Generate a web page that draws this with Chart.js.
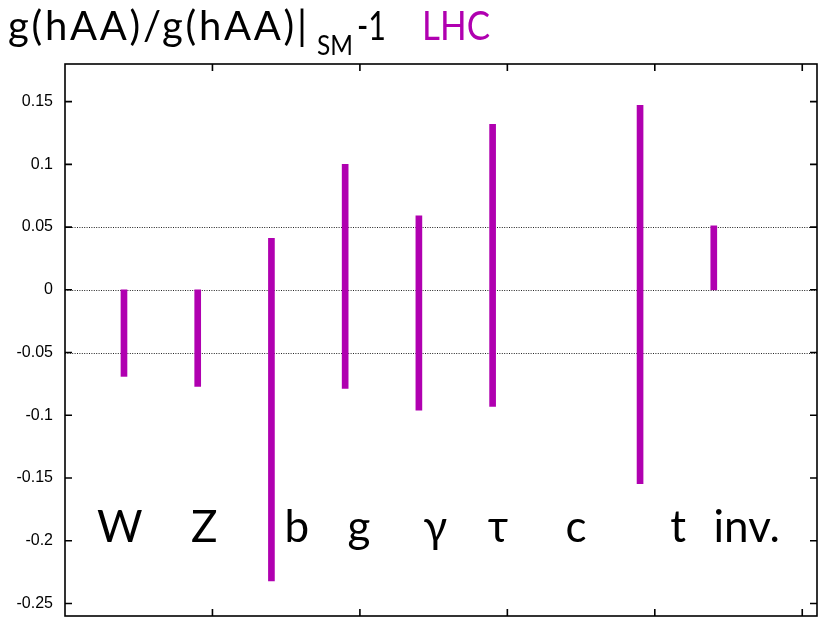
<!DOCTYPE html>
<html><head><meta charset="utf-8">
<script src="https://cdn.jsdelivr.net/npm/chart.js@4"></script>
<style>html,body{margin:0;padding:0;background:#fff;}#wrap{width:831px;height:621px;position:relative}</style>
</head><body><div id="wrap"><canvas id="c" width="831" height="621"></canvas></div>
<script>
// ---- data ----
const categories   = ['W','Z','b','g','\u03B3','\u03C4','c','t','inv.'];
const lowValues    = [-0.069,-0.077,-0.232,-0.0785,-0.096,-0.093,null,-0.1545,0];
const highValues   = [0,0,0.041,0.100,0.059,0.132,null,0.147,0.051];
const categoryLabelX = [0.371,0.945,1.572,1.993,2.510,2.936,3.466,4.159,4.623];
const categoryLabelY = -0.201;
const yTickValues  = [-0.25,-0.2,-0.15,-0.1,-0.05,0,0.05,0.1,0.15];
const xTickValues  = [1,2,3,4,5];
const gridValues   = [-0.05,0,0.05];
const titleMain = 'g(hAA)/g(hAA)|';
const titleSub  = 'SM';
const titleTail = '-1';
const titleLHC  = 'LHC';

const PURPLE = '#b000b0';

const barData = categories.map((c,i) => ({
  x: 0.4 + 0.5*i,
  y: (lowValues[i]===null) ? null : [lowValues[i], highValues[i]]
}));

function fitText(ctx, text, x0, x1, y) {
  const w = ctx.measureText(text).width;
  const n = [...text].length;
  const target = x1 - x0;
  if (w > target || !('letterSpacing' in ctx) || n < 2) {
    ctx.save(); ctx.translate(x0, y); ctx.scale(target / w, 1); ctx.fillText(text, 0, 0); ctx.restore();
  } else {
    ctx.letterSpacing = ((target - w)/(n-1)) + 'px';
    ctx.fillText(text, x0, y);
    ctx.letterSpacing = '0px';
  }
}

const framePlugin = {
  id: 'frame',
  beforeDatasetsDraw(chart) {
    const {ctx, chartArea: a, scales: {x, y}} = chart;
    ctx.save();
    ctx.strokeStyle = '#222';
    ctx.lineWidth = 1;
    ctx.setLineDash([1, 1.4]);
    gridValues.forEach(v => {
      const py = Math.round(y.getPixelForValue(v)) + 0.5;
      ctx.beginPath(); ctx.moveTo(a.left, py); ctx.lineTo(a.right, py); ctx.stroke();
    });
    ctx.restore();
  },
  afterDatasetsDraw(chart) {
    const {ctx, chartArea: a, scales: {x, y}} = chart;
    ctx.save();
    ctx.strokeStyle = '#000';
    ctx.lineWidth = 1.6;
    ctx.strokeRect(a.left, a.top, a.right - a.left, a.bottom - a.top);
    const L = 7;
    ctx.beginPath();
    yTickValues.forEach(v => {
      const py = y.getPixelForValue(v);
      ctx.moveTo(a.left, py); ctx.lineTo(a.left + L, py);
      ctx.moveTo(a.right, py); ctx.lineTo(a.right - L, py);
    });
    xTickValues.forEach(v => {
      const px = x.getPixelForValue(v);
      ctx.moveTo(px, a.top); ctx.lineTo(px, a.top + L);
      ctx.moveTo(px, a.bottom); ctx.lineTo(px, a.bottom - L);
    });
    ctx.stroke();
    // category labels
    ctx.fillStyle = '#000';
    ctx.font = '44px Lato, "DejaVu Sans", sans-serif';
    ctx.textAlign = 'center';
    ctx.textBaseline = 'alphabetic';
    categories.forEach((c, i) => {
      ctx.fillText(c, x.getPixelForValue(categoryLabelX[i]), y.getPixelForValue(categoryLabelY));
    });
    ctx.restore();
  },
  afterDraw(chart) {
    const ctx = chart.ctx;
    ctx.save();
    ctx.textAlign = 'left';
    ctx.textBaseline = 'alphabetic';
    ctx.fillStyle = '#000';
    ctx.font = '40px Lato, "DejaVu Sans", sans-serif';
    fitText(ctx, titleMain, 8, 307, 40);
    ctx.font = '27px Lato, "DejaVu Sans", sans-serif';
    fitText(ctx, titleSub, 317, 353, 55);
    ctx.font = '40px Lato, "DejaVu Sans", sans-serif';
    fitText(ctx, titleTail, 357, 386, 40);
    ctx.fillStyle = PURPLE;
    fitText(ctx, titleLHC, 422, 490, 40);
    ctx.restore();
  }
};

new Chart(document.getElementById('c'), {
  type: 'bar',
  data: {
    datasets: [{
      data: barData,
      backgroundColor: PURPLE,
      borderWidth: 0,
      barThickness: 6
    }]
  },
  options: {
    responsive: false,
    animation: false,
    devicePixelRatio: 1,
    layout: { padding: { top: 64, right: 14, bottom: 5, left: 0 } },
    plugins: { legend: { display: false }, tooltip: { enabled: false }, title: { display: false } },
    scales: {
      x: {
        type: 'linear', min: 0, max: 5.1, display: false, offset: false,
        grid: { display: false }
      },
      y: {
        type: 'linear', min: -0.26, max: 0.18,
        grid: { display: false, drawTicks: false },
        border: { display: false },
        afterBuildTicks(axis) { axis.ticks = yTickValues.map(v => ({ value: v })); },
        afterFit(axis) { axis.width = 65; axis.paddingTop = 0; axis.paddingBottom = 0; },
        ticks: {
          padding: 12,
          color: '#000',
          font: { family: '"Liberation Sans", Arial, sans-serif', size: 16 },
          callback: v => String(Math.round(v * 100) / 100)
        }
      }
    }
  },
  plugins: [framePlugin]
});
</script>
</body></html>
